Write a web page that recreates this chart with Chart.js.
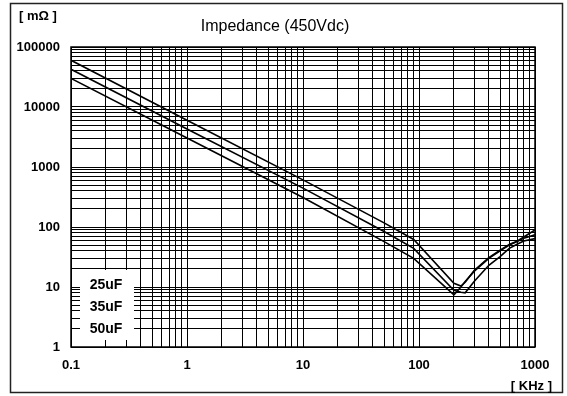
<!DOCTYPE html>
<html>
<head>
<meta charset="utf-8">
<script src="https://cdn.jsdelivr.net/npm/chart.js@4/dist/chart.umd.min.js"></script>
<style>
  html, body { margin: 0; padding: 0; background: #fff; }
</style>
</head>
<body>
<canvas id="impChart" width="567" height="396"></canvas>
<script>
// frequency points [KHz], shared by all curves
var freqKHz = [0.1, 1, 10, 50, 90, 200, 230, 250, 300, 400, 500, 600, 700, 800, 1000];
// impedance [mOhm] per capacitance
var imp25uF = [60000, 6000, 610, 117, 62, 11.5, 10.4, 12, 19, 31, 41, 51, 58, 68, 89];
var imp35uF = [42500, 4300, 445, 84, 44, 8.8, 8.2, 8.0, 12.5, 23, 32, 44, 51.5, 58.5, 64];
var imp50uF = [30000, 3050, 310, 57, 30, 7.4, 10.0, 12.4, 18.4, 30, 40, 50, 57, 65, 74];
var seriesNames = ['25uF', '35uF', '50uF'];
var xMajor = [0.1, 1, 10, 100, 1000];
var xMajorLabels = ['0.1', '1', '10', '100', '1000'];
var yMajor = [1, 10, 100, 1000, 10000, 100000];
var yMajorLabels = ['1', '10', '100', '1000', '10000', '100000'];

var FONT = 'Liberation Sans, Arial, sans-serif';

function points(ys) {
  return freqKHz.map(function (f, i) { return { x: f, y: ys[i] }; });
}

// 1..9 per decade, so every decade gets its full set of grid lines
function decadeTicks(majors) {
  var out = [];
  for (var i = 0; i < majors.length - 1; i++) {
    for (var k = 1; k <= 9; k++) {
      out.push({ value: +(majors[i] * k).toPrecision(6) });
    }
  }
  out.push({ value: majors[majors.length - 1] });
  return out;
}

function majorLabel(majors, labels) {
  return function (value) {
    var i = majors.indexOf(+(+value).toPrecision(6));
    return i >= 0 ? labels[i] : '';
  };
}

var decorations = {
  id: 'decorations',
  beforeDatasetsDraw: function (chart) {
    var ctx = chart.ctx, a = chart.chartArea;
    // white patch for the capacitance labels
    ctx.save();
    ctx.fillStyle = '#fff';
    ctx.fillRect(a.left + 9, a.bottom - 77, 54, 70);
    ctx.restore();
  },
  afterDraw: function (chart) {
    var ctx = chart.ctx, a = chart.chartArea;
    ctx.save();
    // plot border
    ctx.strokeStyle = '#000';
    ctx.lineWidth = 1.5;
    ctx.strokeRect(a.left, a.top, a.right - a.left, a.bottom - a.top);
    // outer frame
    ctx.strokeStyle = '#222';
    ctx.lineWidth = 1.5;
    ctx.strokeRect(10.5, 3.5, 552, 389);

    ctx.fillStyle = '#000';
    ctx.textBaseline = 'middle';
    ctx.textAlign = 'center';
    ctx.font = '16px ' + FONT;
    ctx.fillText('Impedance (450Vdc)', 275, 27);

    ctx.font = 'bold 13px ' + FONT;
    ctx.textAlign = 'left';
    ctx.fillText('[ mΩ ]', 19, 16);
    ctx.textAlign = 'right';
    ctx.fillText('[ KHz ]', 552, 386);

    // series names, top to bottom
    ctx.font = 'bold 14px ' + FONT;
    ctx.textAlign = 'center';
    seriesNames.forEach(function (name, i) {
      ctx.fillText(name, a.left + 35, a.bottom - 62 + i * 22);
    });
    ctx.restore();
  }
};

var tickFont = { family: FONT, size: 13, weight: 'bold' };

new Chart(document.getElementById('impChart'), {
  type: 'line',
  data: {
    datasets: [imp25uF, imp35uF, imp50uF].map(function (ys, i) {
      return {
        label: seriesNames[i],
        data: points(ys),
        borderColor: '#000',
        borderWidth: 1.6,
        pointRadius: 0,
        tension: 0,
        fill: false
      };
    })
  },
  options: {
    responsive: false,
    animation: false,
    layout: { padding: { top: 47, right: 32, left: 0, bottom: 0 } },
    plugins: {
      legend: { display: false },
      title: { display: false },
      tooltip: { enabled: false }
    },
    scales: {
      x: {
        type: 'logarithmic',
        min: 0.1,
        max: 1000,
        afterBuildTicks: function (scale) { scale.ticks = decadeTicks(xMajor); },
        afterFit: function (scale) { scale.height = 49; },
        grid: { color: '#000', lineWidth: 1, drawTicks: false },
        border: { display: false },
        ticks: {
          autoSkip: false,
          maxRotation: 0,
          padding: 11,
          color: '#000',
          font: tickFont,
          callback: majorLabel(xMajor, xMajorLabels)
        }
      },
      y: {
        type: 'logarithmic',
        min: 1,
        max: 100000,
        afterBuildTicks: function (scale) { scale.ticks = decadeTicks(yMajor); },
        afterFit: function (scale) { scale.width = 71; },
        grid: { color: '#000', lineWidth: 1, drawTicks: false },
        border: { display: false },
        ticks: {
          autoSkip: false,
          padding: 11,
          color: '#000',
          font: tickFont,
          callback: majorLabel(yMajor, yMajorLabels)
        }
      }
    }
  },
  plugins: [decorations]
});
</script>
</body>
</html>
